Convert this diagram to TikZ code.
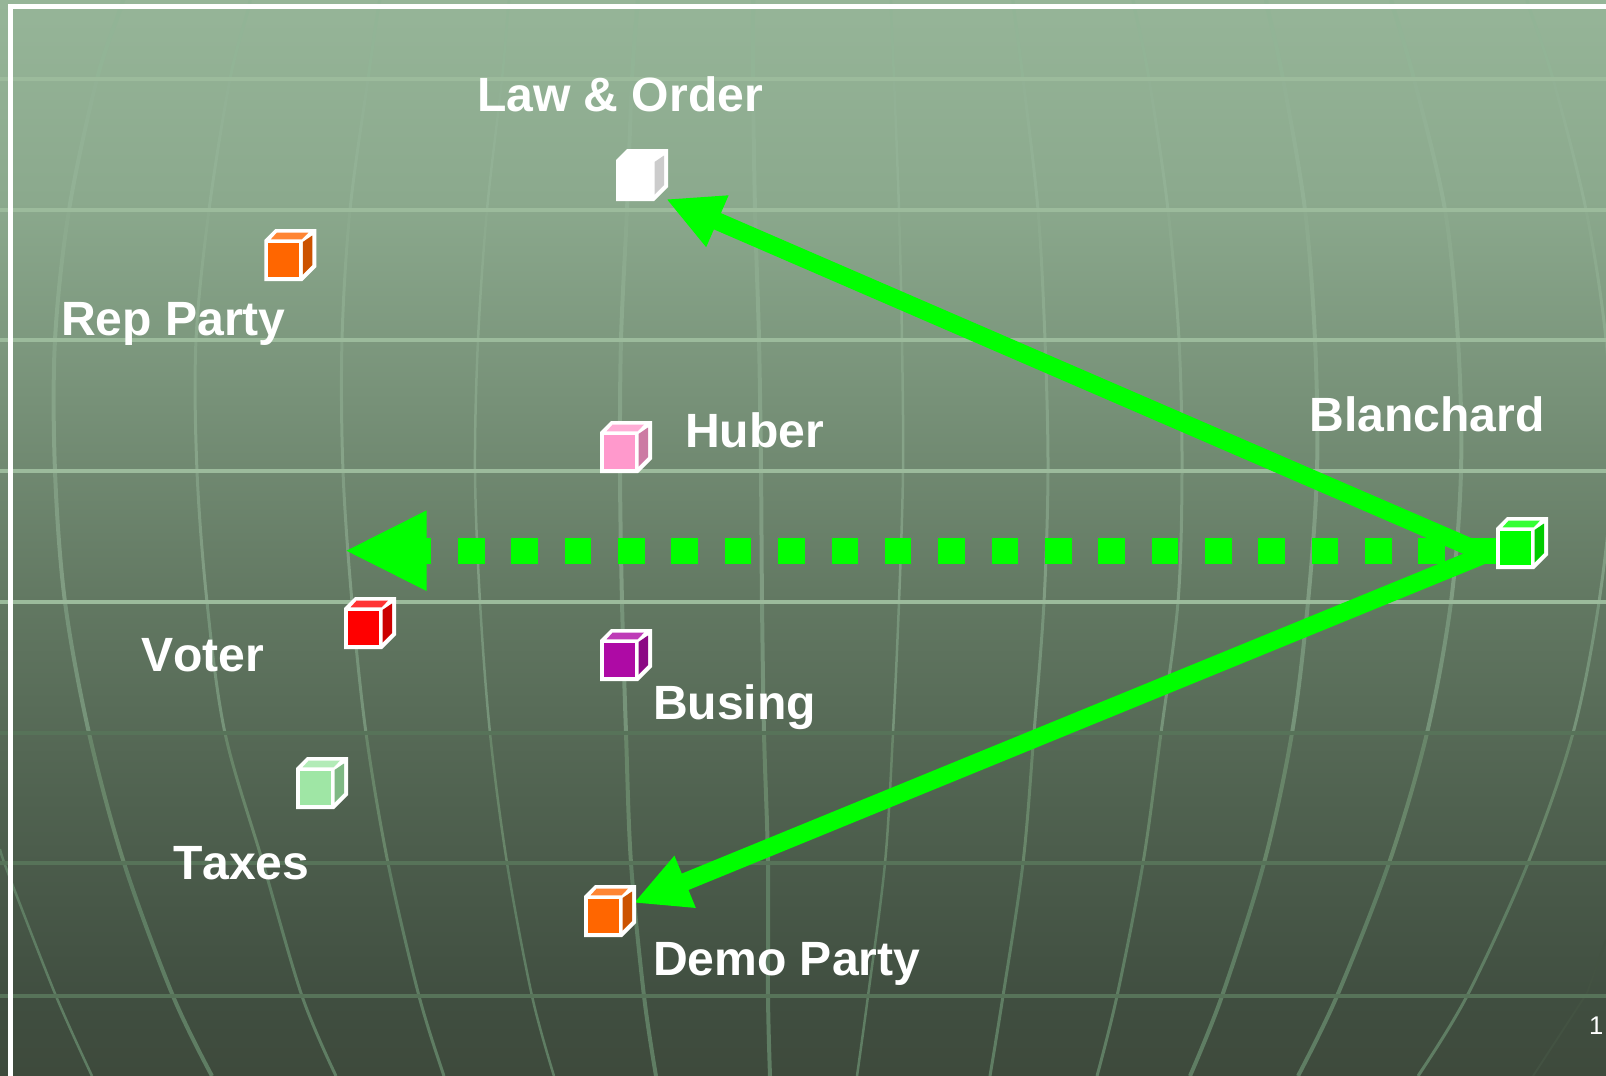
\documentclass[tikz,border=0pt]{standalone}
\usepackage{fontspec}
\setmainfont[Kerning=Off]{Liberation Sans}
\usetikzlibrary{arrows.meta,calc}
\definecolor{bgA}{RGB}{150,181,152}
\definecolor{bgAB}{RGB}{139,169,141}
\definecolor{bgB}{RGB}{119,145,120}
\definecolor{bgC}{RGB}{98,120,98}
\definecolor{bgD}{RGB}{80,98,80}
\definecolor{bgE}{RGB}{64,78,64}
\definecolor{bgF}{RGB}{62,74,60}
\pgfdeclareverticalshading{bgshade}{100bp}{color(0bp)=(bgF); color(25bp)=(bgF); color(28.5bp)=(bgE); color(37.8bp)=(bgD); color(47.1bp)=(bgC); color(56.4bp)=(bgB); color(65.7bp)=(bgAB); color(75bp)=(bgA); color(100bp)=(bgA)}
\definecolor{vcI}{RGB}{146,180,150}
\definecolor{vcII}{RGB}{146,180,150}
\definecolor{vcIII}{RGB}{146,177,149}
\definecolor{vcIV}{RGB}{140,170,142}
\definecolor{vcV}{RGB}{134,163,136}
\definecolor{vcVI}{RGB}{128,156,130}
\definecolor{vcVII}{RGB}{118,147,121}
\definecolor{vcVIII}{RGB}{104,133,105}
\definecolor{vcIX}{RGB}{95,125,99}
\definecolor{vcX}{RGB}{95,125,99}
\definecolor{hlight}{RGB}{156,187,156}
\definecolor{hdark}{RGB}{87,115,89}
\definecolor{arrowgreen}{RGB}{0,255,0}
\definecolor{cOrange}{RGB}{255,102,0}
\definecolor{cPink}{RGB}{255,153,204}
\definecolor{cPurple}{RGB}{174,10,165}
\definecolor{cRed}{RGB}{255,0,0}
\definecolor{cMint}{RGB}{159,230,165}
\definecolor{cGreen}{RGB}{0,255,0}
\tikzset{
  x=1pt,y=-1pt,
  cubebox/.style={minimum size=52pt,inner sep=0pt,outer sep=0pt},
  lbl/.style={anchor=base west,inner sep=0pt,outer sep=0pt,text=white,font=\fontsize{48.1}{50}\selectfont\bfseries},
  hline/.style={line width=3.3pt},
  solidarrow/.style={draw=arrowgreen,line width=17.7pt,-{Triangle[length=56pt,width=52pt]}},
  dotarrow/.style={draw=arrowgreen,line width=26.3pt,dash pattern=on 26.6pt off 26.75pt,-{Triangle[length=82.5pt,width=74pt]}},
}
\newcommand{\gline}[2]{%
  \gdef\coordlist{}%
  \foreach \yv [count=\k from 0] in {0,10,79,210,340,471,602,733,863,996,1076}{%
    \pgfmathsetmacro\xv{{#2}[\k]}%
    \xdef\coordlist{\coordlist (\xv,\yv)}%
  }%
  \foreach \ya/\yb/\cn in {-9/10/vcI,10/79/vcII,79/210/vcIII,210/340/vcIV,340/471/vcV,471/602/vcVI,602/733/vcVII,733/863/vcVIII,863/996/vcIX,996/1085/vcX}{%
    \begin{scope}
      \clip (-20,\ya) rectangle (1640,\yb);
      \edef\tmpdraw{\noexpand\draw[line width=#1pt,color=\cn] plot[smooth,tension=.55] coordinates {\coordlist};}%
      \tmpdraw
    \end{scope}
  }%
}
\newcommand{\cubefaces}[2]{%
  \begin{scope}[shift={(#1.north west)}]
    \fill[white] (0,11) -- (11,0) -- (52,0) -- (52,38) -- (38,52) -- (0,52) -- cycle;
    \fill[#2] (3.7,14.3) rectangle (34.7,48);
    \fill[#2!80!white] (6.5,10.3) -- (12.5,3.7) -- (44,3.7) -- (37.5,10.3) -- cycle;
    \fill[#2!80!black] (38.5,13) -- (48,6.5) -- (48,36) -- (38.5,45.7) -- cycle;
  \end{scope}%
}
\begin{document}
\begin{tikzpicture}
\useasboundingbox (0,0) rectangle (1606,1076);
\clip (0,0) rectangle (1606,1076);
\shade[shading=bgshade] (0,0) rectangle (1606,1076);
% globe lines
\gline{4}{123,120,97,69,55,55,65,89,124,173,212}
\gline{3}{250,248,230,209,196,197,207,225,263,302,336}
\gline{3}{380,378,368,350,342,343,352,366,388,419,444}
\gline{2.5}{509,508,502,487,478,475,480,490,507,532,554}
\gline{4}{638,637,632,627,621,620,622,626,631,644,656}
\gline{4}{753,753,753,755,759,761,762,764,768,768,770}
\gline{2.5}{891,891,894,899,902,903,899,893,885,868,857}
\gline{3}{1013,1014,1023,1038,1045,1048,1044,1034,1023,1003,990}
\gline{3}{1133,1135,1149,1168,1179,1182,1178,1161,1143,1117,1097}
\gline{4}{1266,1268,1283,1305,1315,1317,1308,1292,1264,1222,1190}
\gline{4}{1391,1394,1414,1445,1458,1461,1451,1427,1389,1337,1298}
\gline{3}{1527,1530,1553,1586,1606,1612,1599,1573,1528,1467,1418}
\draw[line width=2.5pt,vcX] plot[smooth,tension=.5] coordinates {(0,849) (8,873) (56,996) (92,1076)};
\draw[line width=2pt,color=bgF!85!vcX] (1533,1076) -- (1587,993) -- (1606,940);
% horizontal lines
\foreach \yy in {79,210,340,471,602}{\draw[hline,hlight] (0,\yy) -- (1606,\yy);}
\foreach \yy in {733,863,996}{\draw[hline,hdark] (0,\yy) -- (1606,\yy);}
% frame
\draw[white,line width=5pt] (10,1080) -- (10,6.7) -- (1610,6.7);
% cube nodes
\node[cubebox] (law) at (642,175) {};
\node[cubebox] (rep) at (290.3,255) {};
\node[cubebox] (huber) at (626,447) {};
\node[cubebox] (busing) at (626,655) {};
\node[cubebox] (voter) at (370,623) {};
\node[cubebox] (taxes) at (322,783) {};
\node[cubebox] (demo) at (610,911) {};
\node[cubebox] (blanchard) at (1522,543) {};
% connector ends
\coordinate (srcSolid) at ($(blanchard.center)+(-36,11)$);
\coordinate (srcDot) at ($(blanchard.center)+(-23.7,7.7)$);
\coordinate (lawTip) at ($(law.center)+(24,24)$);
\coordinate (demoTip) at ($(demo.center)+(23.3,-8)$);
\coordinate (voterTip) at ($(voter.center)+(-25.8,-72.3)$);
% arrows
\draw[dotarrow] (srcDot) -- (voterTip);
\draw[solidarrow] (srcSolid) -- (lawTip);
\draw[solidarrow] (srcSolid) -- (demoTip);
% cubes
\cubefaces{law}{white}
\cubefaces{rep}{cOrange}
\cubefaces{huber}{cPink}
\cubefaces{busing}{cPurple}
\cubefaces{voter}{cRed}
\cubefaces{taxes}{cMint}
\cubefaces{demo}{cOrange}
\cubefaces{blanchard}{cGreen}
% labels
\node[lbl] (tLaw) at (477,111) {Law \& Order};
\node[lbl] (tRep) at (61,335) {Rep Party};
\node[lbl] (tHuber) at (685,447) {Huber};
\node[lbl] (tBlanchard) at (1309.5,431.5) {Blanchard};
\node[lbl] (tVoter) at (141.5,671) {Voter};
\node[lbl] (tBusing) at (653,719) {Busing};
\node[lbl] (tTaxes) at (173,879) {Taxes};
\node[lbl] (tDemo) at (653,975) {Demo Party};
\node[anchor=base west,inner sep=0pt,text=white,font=\fontsize{25.6}{28}\selectfont] (tNum) at (1589,1034.3) {1};
\end{tikzpicture}
\end{document}
